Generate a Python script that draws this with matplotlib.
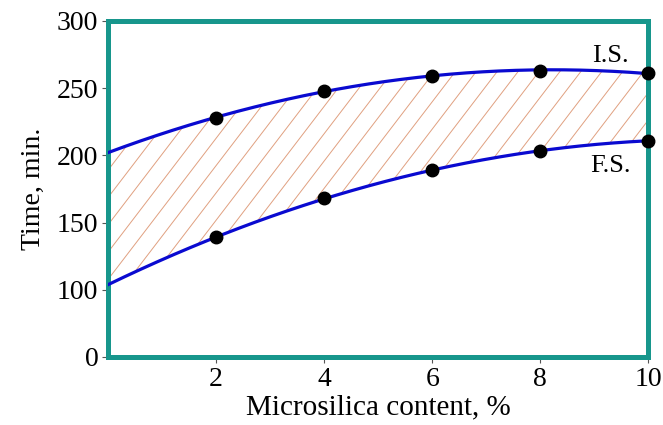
import numpy as np
import matplotlib
matplotlib.use("Agg")
import matplotlib.pyplot as plt

# Data
microsilica = [2, 4, 6, 8, 10]
initial_setting = [228, 248, 259, 263, 261]
final_setting = [139, 168, 189, 203, 211]
y_tick_values = [50, 100, 150, 200, 250, 300]
y_tick_labels = ["0", "100", "150", "200", "250", "300"]
x_tick_values = [2, 4, 6, 8, 10]

plt.rcParams['font.family'] = ['Liberation Serif', 'DejaVu Serif']

fig = plt.figure(figsize=(6.63, 4.25), dpi=100)
ax = fig.add_axes([0.163, 0.16, 0.815, 0.791])

x = np.array(microsilica, dtype=float)
xs = np.linspace(0, 10, 200)
p_is = np.polyfit(x, initial_setting, 2)
p_fs = np.polyfit(x, final_setting, 2)
y_is = np.polyval(p_is, xs)
y_fs = np.polyval(p_fs, xs)

poly = ax.fill_between(xs, y_fs, y_is, facecolor='none', edgecolor='none', zorder=1)

# custom hatch lines (style), clipped to the band
slope = 2.1
spacing = 0.0387
for c in np.arange(-1.0, 1.05, spacing):
    ln, = ax.plot([c, c + 1 / slope], [0, 1], transform=ax.transAxes,
                  color='#e0a080', lw=0.7, zorder=2)
    ln.set_clip_path(poly.get_paths()[0], ax.transData)

ax.plot(xs, y_is, color='#0a0ad0', lw=2.3, zorder=3)
ax.plot(xs, y_fs, color='#0a0ad0', lw=2.3, zorder=3)
ax.plot(x, initial_setting, 'o', color='black', ms=9, zorder=5, clip_on=False)
ax.plot(x, final_setting, 'o', color='black', ms=9, zorder=5, clip_on=False)

ax.text(9.3, 274, "I.S.", fontsize=19, ha='center', va='center')
ax.text(9.3, 192, "F.S.", fontsize=19, ha='center', va='center')

ax.set_xlim(0, 10)
ax.set_ylim(50, 300)
ax.set_xticks(x_tick_values)
ax.set_yticks(y_tick_values)
ax.set_yticklabels(y_tick_labels)
ax.tick_params(axis='both', labelsize=20, length=4, width=0.8, color='#555555', direction='out', pad=3)

for s in ax.spines.values():
    s.set_color('#17968c')
    s.set_linewidth(3.6)

ax.set_xlabel("Microsilica content, %", fontsize=21, labelpad=2)
ax.set_ylabel("Time, min.", fontsize=20, labelpad=8)

fig.savefig("out.png", dpi=100, facecolor='white')
